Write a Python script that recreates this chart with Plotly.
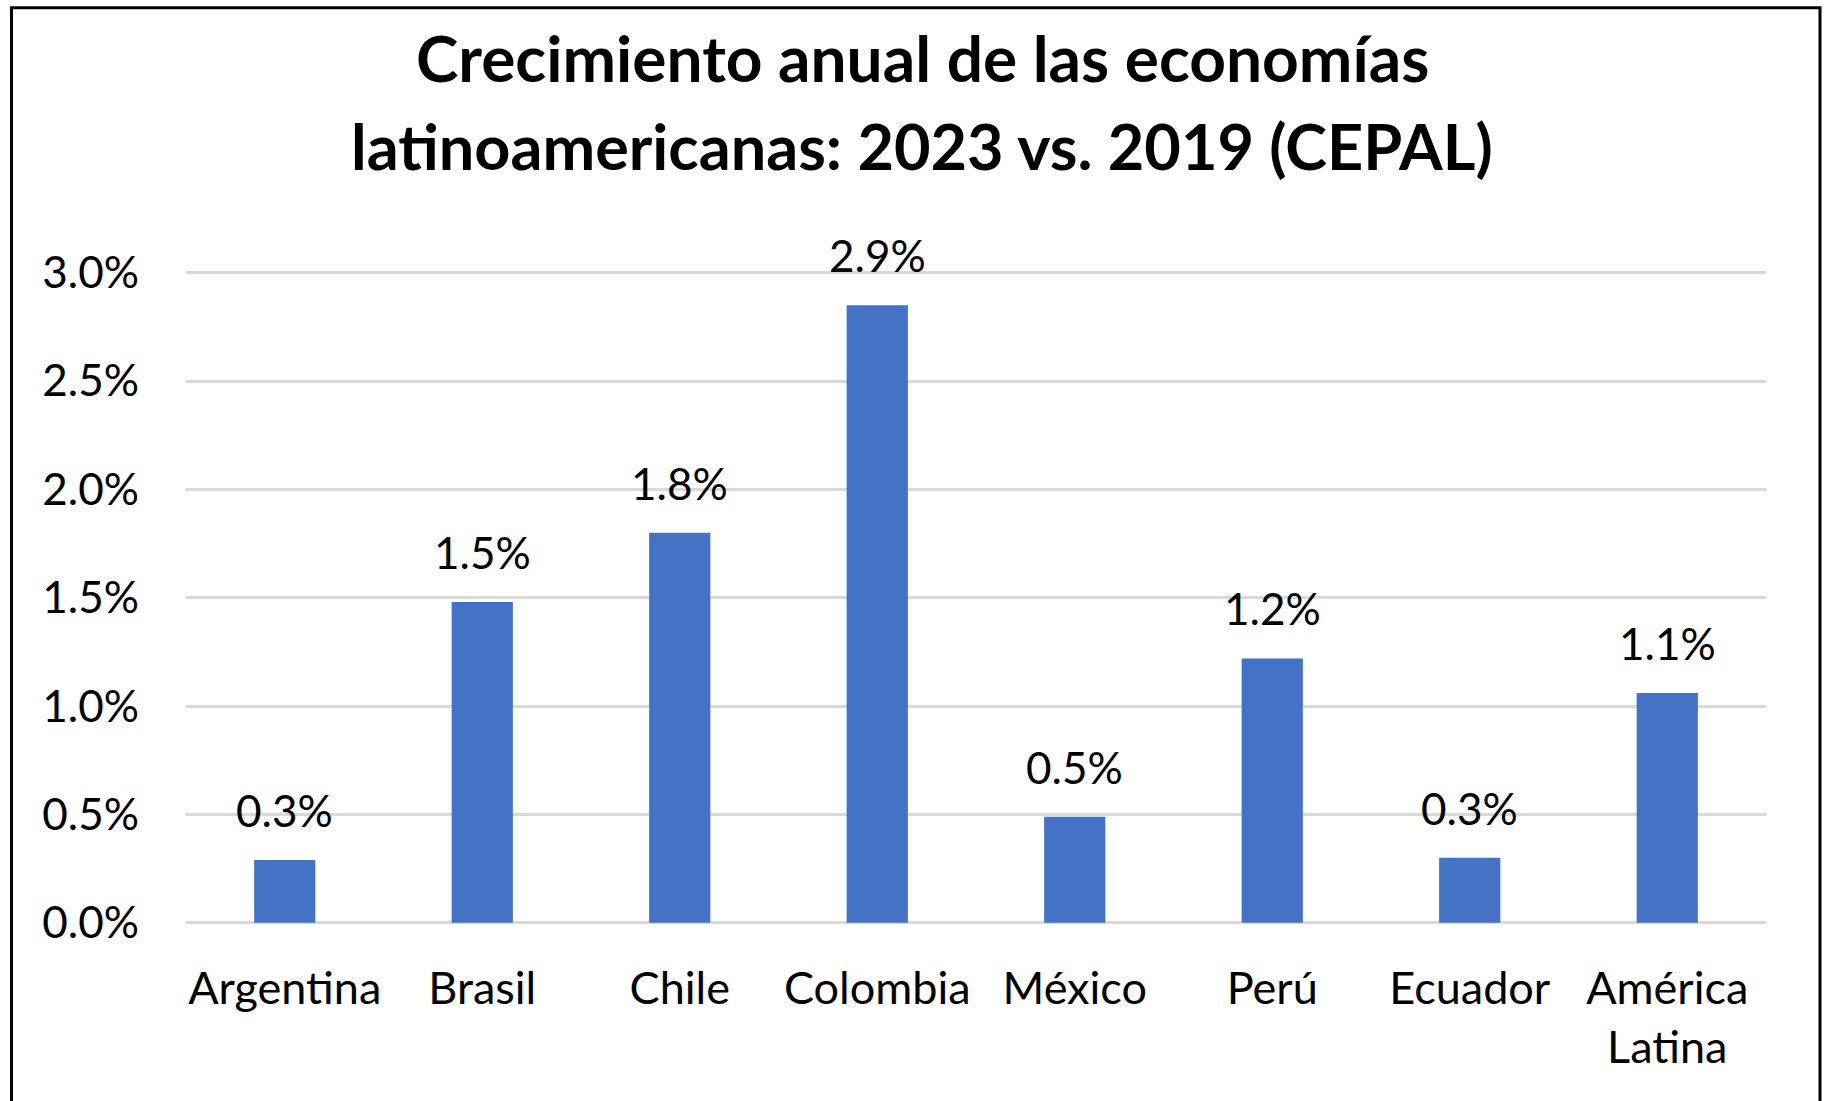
import plotly.graph_objects as go

categories = ["Argentina", "Brasil", "Chile", "Colombia", "México", "Perú", "Ecuador", "América Latina"]
category_labels = ["Argentina", "Brasil", "Chile", "Colombia", "México", "Perú", "Ecuador", "América<br>Latina"]
growth = [0.29, 1.48, 1.80, 2.85, 0.49, 1.22, 0.30, 1.06]
value_labels = ["0.3%", "1.5%", "1.8%", "2.9%", "0.5%", "1.2%", "0.3%", "1.1%"]
y_ticks = [0.0, 0.5, 1.0, 1.5, 2.0, 2.5, 3.0]
y_tick_labels = ["0.0%", "0.5%", "1.0%", "1.5%", "2.0%", "2.5%", "3.0%"]
title_lines = ["Crecimiento anual de las economías", "latinoamericanas: 2023 vs. 2019 (CEPAL)"]

FONT = "Lato"
W, H = 1825, 1101
L, R = 186, 59
Y0 = 925.2   # pixel of plot bottom
YT = 251.3   # pixel of plot top
ymin, ymax = -0.01, 3.1
B = H - Y0
T = YT
ph = Y0 - YT
pw = W - L - R

def py(pix):
    return (Y0 - pix) / ph

def px(pix):
    return (pix - L) / pw

fig = go.Figure()
fig.add_trace(go.Bar(
    x=categories, y=growth,
    marker=dict(color="#4472C4", line=dict(width=0)),
    width=0.31,
    hoverinfo="skip",
))

annotations = []
for c, v, t in zip(categories, growth, value_labels):
    annotations.append(dict(
        x=c, y=v, xref="x", yref="y", text=t, showarrow=False,
        yanchor="bottom", yshift=22,
        font=dict(family=FONT, size=44, color="#000000"),
    ))

title_y = [58, 146]
title_sizes = [64, 63]
for line, yy, fs in zip(title_lines, title_y, title_sizes):
    annotations.append(dict(
        x=px(922), y=py(yy), xref="paper", yref="paper",
        text="<b>" + line + "</b>", showarrow=False,
        xanchor="center", yanchor="middle",
        font=dict(family=FONT, size=fs, color="#000000"),
    ))

fig.update_layout(
    width=W, height=H,
    margin=dict(l=L, r=R, t=T, b=B, pad=0),
    paper_bgcolor="white", plot_bgcolor="white",
    showlegend=False,
    annotations=annotations,
    bargap=0.69,
    xaxis=dict(
        tickmode="array", tickvals=categories, ticktext=category_labels,
        tickfont=dict(family=FONT, size=45, color="#000000"),
        showgrid=False, showline=False, ticks="",
        ticklabelstandoff=33,
    ),
    yaxis=dict(
        range=[ymin, ymax],
        tickmode="array", tickvals=y_ticks, ticktext=y_tick_labels,
        tickfont=dict(family=FONT, size=44, color="#000000"),
        showgrid=True, gridcolor="#d9d9d9", gridwidth=3,
        zeroline=True, zerolinecolor="#d9d9d9", zerolinewidth=3,
        showline=False, ticks="",
        ticklabelstandoff=46,
    ),
    shapes=[dict(
        type="rect", xref="paper", yref="paper",
        x0=px(11.5), x1=px(1820), y0=py(1120), y1=py(8),
        line=dict(color="#000000", width=3), fillcolor="rgba(0,0,0,0)",
        layer="above",
    )],
)

fig.write_html("out.html")
